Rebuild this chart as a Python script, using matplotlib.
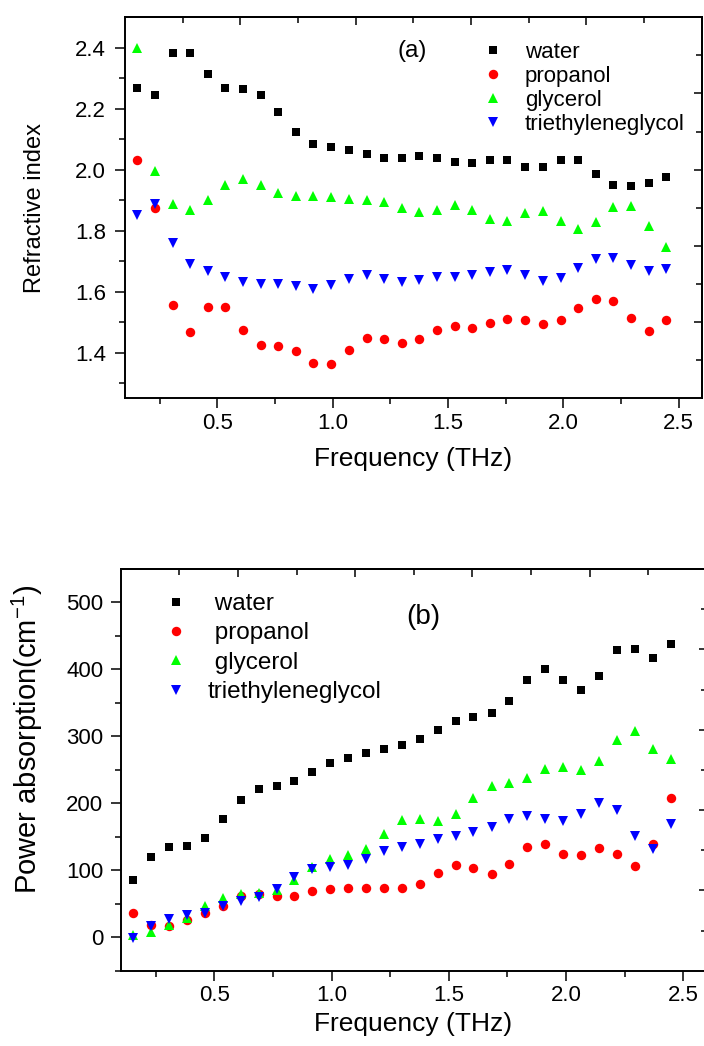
import matplotlib
matplotlib.use('Agg')
import matplotlib.pyplot as plt

plt.rcParams['font.family'] = ['Liberation Sans', 'DejaVu Sans']
plt.rcParams['mathtext.fontset'] = 'custom'
plt.rcParams['mathtext.rm'] = 'Liberation Sans'
plt.rcParams['mathtext.it'] = 'Liberation Sans:italic'
plt.rcParams['mathtext.bf'] = 'Liberation Sans:bold'

# ---------------- data ----------------
freq = [0.153, 0.229, 0.306, 0.382, 0.459, 0.535, 0.612, 0.688, 0.765, 0.841,
        0.917, 0.994, 1.070, 1.147, 1.223, 1.300, 1.376, 1.452, 1.529, 1.605,
        1.682, 1.758, 1.835, 1.911, 1.988, 2.064, 2.140, 2.217, 2.293, 2.370, 2.446]

n_water = [2.267, 2.246, 2.383, 2.383, 2.314, 2.268, 2.265, 2.245, 2.188, 2.123,
           2.085, 2.073, 2.064, 2.051, 2.040, 2.040, 2.046, 2.040, 2.024, 2.022,
           2.033, 2.031, 2.009, 2.009, 2.032, 2.031, 1.986, 1.949, 1.947, 1.958, 1.976]
n_propanol = [2.033, 1.873, 1.555, 1.466, 1.550, 1.551, 1.475, 1.426, 1.423, 1.406,
              1.365, 1.361, 1.409, 1.447, 1.446, 1.431, 1.444, 1.475, 1.486, 1.482,
              1.496, 1.510, 1.506, 1.493, 1.507, 1.547, 1.577, 1.569, 1.515, 1.471, 1.507]
n_glycerol = [2.400, 1.997, 1.886, 1.867, 1.899, 1.949, 1.970, 1.949, 1.922, 1.913,
              1.915, 1.911, 1.903, 1.900, 1.893, 1.875, 1.861, 1.867, 1.884, 1.869,
              1.839, 1.832, 1.857, 1.863, 1.831, 1.806, 1.830, 1.878, 1.880, 1.815, 1.746]
n_teg = [1.850, 1.886, 1.760, 1.690, 1.668, 1.649, 1.630, 1.624, 1.624, 1.617,
         1.610, 1.621, 1.643, 1.654, 1.643, 1.632, 1.637, 1.648, 1.649, 1.654,
         1.664, 1.670, 1.654, 1.635, 1.645, 1.676, 1.708, 1.710, 1.687, 1.668, 1.673]

a_water = [84.8, 119.6, 134.6, 136.1, 148.0, 176.0, 204.8, 220.8, 225.8, 233.8,
           246.7, 259.7, 267.6, 275.7, 281.7, 287.1, 296.6, 310.1, 323.6, 329.5,
           335.0, 352.4, 383.8, 400.3, 384.9, 368.9, 390.3, 428.7, 431.2, 417.2, 438.7]
a_propanol = [35.9, 19.0, 16.5, 25.0, 36.5, 46.4, 61.3, 64.9, 61.3, 62.3,
              68.3, 71.3, 73.3, 73.3, 73.3, 73.8, 79.8, 96.3, 108.3, 103.2,
              94.8, 108.7, 134.6, 138.6, 124.7, 122.2, 133.1, 124.7, 106.2, 139.6, 208.4]
a_glycerol = [3.5, 8.5, 18.5, 28.5, 46.4, 57.9, 64.9, 65.8, 69.8, 85.8,
              104.7, 117.2, 122.2, 132.2, 154.6, 174.5, 177.0, 173.0, 183.5, 207.8,
              225.8, 230.8, 237.7, 250.7, 254.2, 250.3, 262.7, 295.1, 307.6, 281.7, 266.7]
a_teg = [-1.0, 17.5, 27.5, 33.5, 36.5, 46.4, 53.4, 59.8, 72.4, 89.7,
         102.3, 104.7, 107.2, 116.2, 128.1, 134.6, 138.6, 146.1, 151.0, 157.0,
         164.5, 176.0, 180.9, 176.0, 173.0, 183.5, 201.0, 189.4, 151.0, 131.1, 169.6]

labels_a = ['water', 'propanol', 'glycerol', 'triethyleneglycol']
labels_b = [' water', ' propanol', ' glycerol', 'triethyleneglycol']

# ---------------- styles ----------------
styles = [dict(marker='s', color='#000000', ms=6.2),
          dict(marker='o', color='#ff0000', ms=6.8),
          dict(marker='^', color='#00ff00', ms=7.8),
          dict(marker='v', color='#0000ff', ms=7.8)]

W, H = 704, 1046
fig = plt.figure(figsize=(W / 100, H / 100), dpi=100)


def frac(l, t, r, b):
    return [l / W, 1 - b / H, (r - l) / W, (b - t) / H]


def style_axes(ax, top_major, top_minor, right_major, right_minor, ypad):
    for s in ax.spines.values():
        s.set_linewidth(1.4)
    ax.tick_params(which='major', direction='out', length=7, width=1.1,
                   labelsize=16, top=False, right=False)
    ax.tick_params(which='minor', direction='out', length=4, width=1.1,
                   top=False, right=False)
    ax.tick_params(axis='x', which='major', pad=3.5)
    ax.tick_params(axis='y', which='major', pad=ypad)
    sx = ax.secondary_xaxis('top')
    sx.set_xticks(top_major)
    sx.set_xticks(top_minor, minor=True)
    sx.tick_params(which='major', direction='in', length=6, width=1.1, labeltop=False)
    sx.tick_params(which='minor', direction='in', length=4, width=1.1, labeltop=False)
    sx.spines['top'].set_linewidth(1.4)
    sy = ax.secondary_yaxis('right')
    sy.set_yticks(right_major)
    sy.set_yticks(right_minor, minor=True)
    sy.tick_params(which='major', direction='in', length=6, width=1.1, labelright=False)
    sy.tick_params(which='minor', direction='in', length=4, width=1.1, labelright=False)
    sy.spines['right'].set_linewidth(1.4)


# ---------------- panel (a) ----------------
ax1 = fig.add_axes(frac(125, 17.3, 701.7, 398.3))
for ys, st, lab in zip([n_water, n_propanol, n_glycerol, n_teg], styles, labels_a):
    ax1.plot(freq, ys, linestyle='none', marker=st['marker'], color=st['color'],
             markersize=st['ms'], markeredgewidth=0, label=lab)
ax1.set_xlim(0.1, 2.6)
ax1.set_ylim(1.25, 2.5)
ax1.set_xticks([0.5, 1.0, 1.5, 2.0, 2.5])
ax1.set_xticks([0.25, 0.75, 1.25, 1.75, 2.25], minor=True)
ax1.set_yticks([1.4, 1.6, 1.8, 2.0, 2.2, 2.4])
ax1.set_yticks([1.3, 1.5, 1.7, 1.9, 2.1, 2.3], minor=True)
style_axes(ax1, [0.6, 1.1, 1.6, 2.1], [0.35, 0.85, 1.35, 1.85, 2.35],
           [1.5, 1.75, 2.0, 2.25], [1.375, 1.625, 1.875, 2.125, 2.375], ypad=6.5)
ax1.set_xlabel('Frequency (THz)', fontsize=19)
ax1.xaxis.set_label_coords(0.4994, -0.128)
ax1.set_ylabel('Refractive index', fontsize=17, va='center')
ax1.yaxis.set_label_coords(-0.156, 0.5)
ax1.text(0.4977, 0.912, '(a)', transform=ax1.transAxes, fontsize=17.5,
         ha='center', va='center')
ax1.legend(loc='upper left', bbox_to_anchor=(0.618, 0.935), frameon=False,
           fontsize=16, borderpad=0, borderaxespad=0, handlelength=1.0,
           handletextpad=0.95, labelspacing=0.13, numpoints=1)

# ---------------- panel (b) ----------------
ax2 = fig.add_axes(frac(120.7, 569, 706.7, 970.7))
for ys, st, lab in zip([a_water, a_propanol, a_glycerol, a_teg], styles, labels_b):
    ax2.plot(freq, ys, linestyle='none', marker=st['marker'], color=st['color'],
             markersize=st['ms'], markeredgewidth=0, label=lab)
ax2.set_xlim(0.1, 2.6)
ax2.set_ylim(-50, 550)
ax2.set_xticks([0.5, 1.0, 1.5, 2.0, 2.5])
ax2.set_xticks([0.25, 0.75, 1.25, 1.75, 2.25], minor=True)
ax2.set_yticks([0, 100, 200, 300, 400, 500])
ax2.set_yticks([-50, 50, 150, 250, 350, 450], minor=True)
style_axes(ax2, [0.6, 1.1, 1.6, 2.1], [0.35, 0.85, 1.35, 1.85, 2.35],
           [70, 190, 310, 430], [10, 130, 250, 370, 490], ypad=5.5)
ax2.set_xlabel('Frequency (THz)', fontsize=19)
ax2.xaxis.set_label_coords(0.4997, -0.102)
ax2.set_ylabel('Power absorption(cm$^{-1}$)', fontsize=21, va='center')
ax2.yaxis.set_label_coords(-0.16, 0.577)
ax2.text(0.5159, 0.88, '(b)', transform=ax2.transAxes, fontsize=20,
         ha='center', va='center')
ax2.legend(loc='upper left', bbox_to_anchor=(0.0737, 0.94), frameon=False,
           fontsize=17.5, borderpad=0, borderaxespad=0, handlelength=1.0,
           handletextpad=0.8, labelspacing=0.3, numpoints=1)

fig.savefig('out.png', dpi=100)
